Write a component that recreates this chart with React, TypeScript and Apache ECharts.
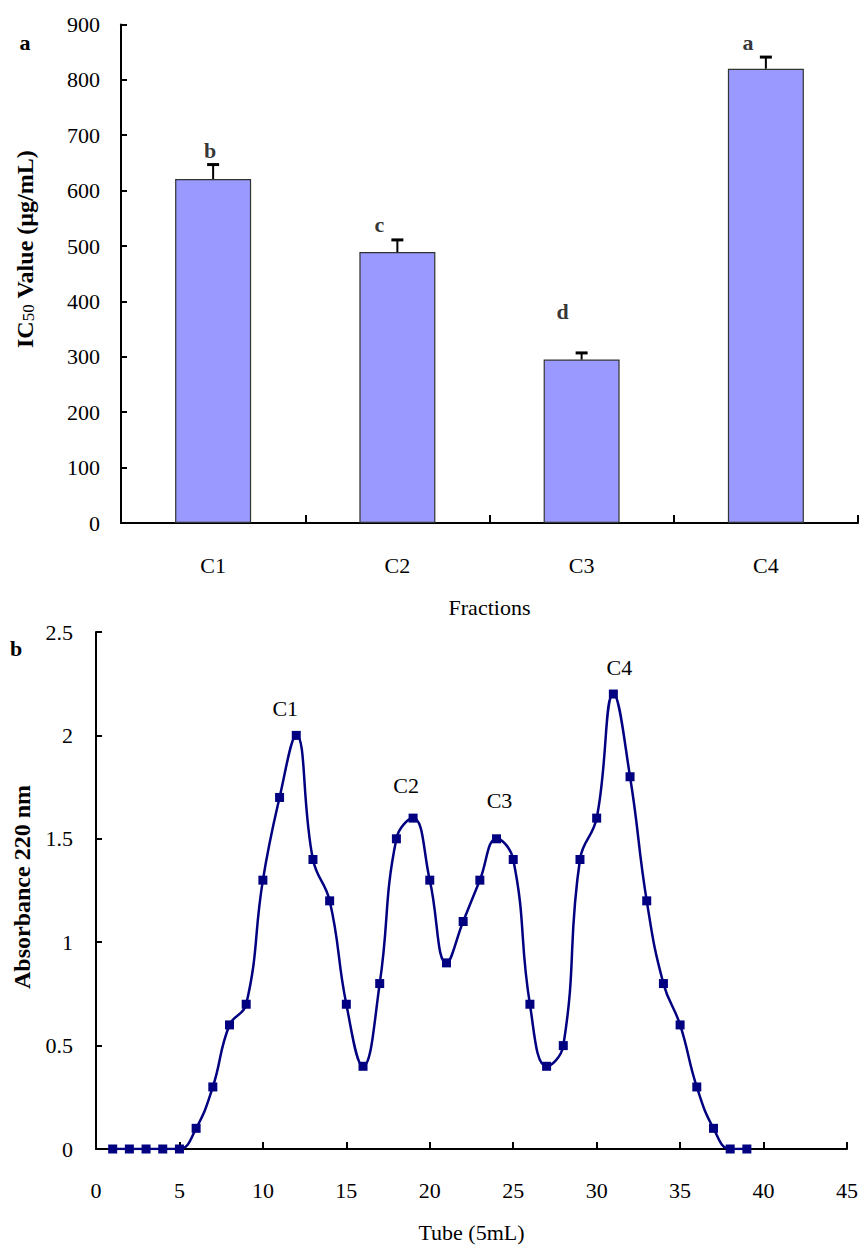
import React, { useEffect, useRef } from "react";
import * as echarts from "echarts";

// ---- Panel a: IC50 of fractions ----
const fractions = ["C1", "C2", "C3", "C4"];
const ic50 = [621, 489, 295, 820];
const ic50Err = [26, 22, 12, 21];
const sigLetters = ["b", "c", "d", "a"];
const sigLetterY = [673, 538, 381, 868];
const sigLetterDx = [-3, -18, -19, -18];

// ---- Panel b: elution profile ----
const tubes = [
  1, 2, 3, 4, 5, 6, 7, 8, 9, 10, 11, 12, 13, 14, 15, 16, 17, 18, 19, 20,
  21, 22, 23, 24, 25, 26, 27, 28, 29, 30, 31, 32, 33, 34, 35, 36, 37, 38, 39,
];
const absorbance = [
  0, 0, 0, 0, 0, 0.1, 0.3, 0.6, 0.7, 1.3, 1.7, 2.0, 1.4, 1.2, 0.7, 0.4, 0.8, 1.5, 1.6, 1.3,
  0.9, 1.1, 1.3, 1.5, 1.4, 0.7, 0.4, 0.5, 1.4, 1.6, 2.2, 1.8, 1.2, 0.8, 0.6, 0.3, 0.1, 0, 0,
];
const peakTubes = [12, 19, 24, 31];
const peakNames = ["C1", "C2", "C3", "C4"];
const peakLabelGap = [11, 17, 23, 11];
const peakLabelDx = [-11, -7, 3, 6];

const SERIF = "'Liberation Serif', 'Times New Roman', serif";
const NAVY = "#000080";

export default function App() {
  const ref = useRef<HTMLDivElement>(null);

  useEffect(() => {
    document.body.style.margin = "0";
    if (!ref.current) return;
    const chart = echarts.init(ref.current, null, { renderer: "svg" });

    const axisLine = { show: true, lineStyle: { color: "#000", width: 2 } };
    const tickStyle = { color: "#000", width: 2 };
    const labelStyle = { color: "#000", fontFamily: SERIF, fontSize: 22 };

    const lineData = tubes.map((t, i) => {
      const k = peakTubes.indexOf(t);
      if (k < 0) return [t, absorbance[i]];
      return {
        value: [t, absorbance[i]],
        label: {
          show: true,
          formatter: peakNames[k],
          position: "top",
          distance: peakLabelGap[k],
          offset: [peakLabelDx[k], 0],
          color: "#000",
          fontFamily: SERIF,
          fontSize: 22,
        },
      };
    });

    chart.setOption({
      animation: false,
      backgroundColor: "#fff",
      grid: [
        { left: 121, right: 3, top: 24.4, height: 498.6, containLabel: false },
        { left: 96, right: 11, top: 632, height: 517, containLabel: false },
      ],
      xAxis: [
        {
          gridIndex: 0,
          type: "category",
          data: fractions,
          boundaryGap: true,
          axisLine,
          axisTick: { show: true, inside: true, length: 8, interval: 0, lineStyle: tickStyle },
          axisLabel: { ...labelStyle, margin: 31, interval: 0 },
          name: "Fractions",
          nameLocation: "middle",
          nameGap: 73,
          nameTextStyle: { color: "#000", fontFamily: SERIF, fontSize: 22 },
          splitLine: { show: false },
        },
        {
          gridIndex: 1,
          type: "value",
          min: 0,
          max: 45,
          interval: 5,
          axisLine,
          axisTick: { show: true, inside: true, length: 7, lineStyle: tickStyle },
          axisLabel: { ...labelStyle, margin: 30 },
          name: "Tube (5mL)",
          nameLocation: "middle",
          nameGap: 72,
          nameTextStyle: { color: "#000", fontFamily: SERIF, fontSize: 22 },
          splitLine: { show: false },
        },
      ],
      yAxis: [
        {
          gridIndex: 0,
          type: "value",
          min: 0,
          max: 900,
          interval: 100,
          axisLine,
          axisTick: { show: true, inside: true, length: 6, lineStyle: tickStyle },
          axisLabel: { ...labelStyle, margin: 21 },
          splitLine: { show: false },
        },
        {
          gridIndex: 1,
          type: "value",
          min: 0,
          max: 2.5,
          interval: 0.5,
          axisLine,
          axisTick: { show: true, inside: true, length: 6, lineStyle: tickStyle },
          axisLabel: { ...labelStyle, margin: 23 },
          splitLine: { show: false },
        },
      ],
      graphic: [
        {
          type: "text",
          x: 25,
          y: 42,
          style: { text: "a", font: `bold 22px ${SERIF}`, fill: "#000", align: "center", verticalAlign: "middle" },
        },
        {
          type: "text",
          x: 16,
          y: 648,
          style: { text: "b", font: `bold 22px ${SERIF}`, fill: "#000", align: "center", verticalAlign: "middle" },
        },
        {
          type: "text",
          x: 25,
          y: 249,
          rotation: Math.PI / 2,
          style: {
            text: "{b|IC}{s|50}{b| Value (µg/mL)}",
            align: "center",
            verticalAlign: "middle",
            fill: "#000",
            rich: {
              b: { fontFamily: SERIF, fontWeight: "bold", fontSize: 24, fill: "#000", color: "#000", verticalAlign: "bottom" },
              s: { fontFamily: SERIF, fontWeight: "normal", fontSize: 17, fill: "#000", color: "#000", verticalAlign: "bottom" },
            },
          },
        },
        {
          type: "text",
          x: 22,
          y: 887,
          rotation: Math.PI / 2,
          style: {
            text: "Absorbance 220 nm",
            font: `bold 24px ${SERIF}`,
            fill: "#000",
            align: "center",
            verticalAlign: "middle",
          },
        },
      ],
      series: [
        {
          type: "bar",
          xAxisIndex: 0,
          yAxisIndex: 0,
          data: ic50,
          barWidth: 76,
          itemStyle: { color: "#9999ff", borderColor: "#333333", borderWidth: 1.2 },
          z: 2,
        },
        {
          type: "custom",
          xAxisIndex: 0,
          yAxisIndex: 0,
          z: 3,
          data: fractions.map((_, i) => [i, ic50[i], ic50Err[i]]),
          renderItem: (_params: any, api: any) => {
            const i = api.value(0);
            const v = api.value(1);
            const e = api.value(2);
            const base = api.coord([i, v]);
            const top = api.coord([i, v + e]);
            const hw = 6;
            return {
              type: "group",
              children: [
                {
                  type: "line",
                  shape: { x1: top[0], y1: base[1], x2: top[0], y2: top[1] },
                  style: { stroke: "#000", lineWidth: 2 },
                },
                {
                  type: "line",
                  shape: { x1: top[0] - hw, y1: top[1], x2: top[0] + hw, y2: top[1] },
                  style: { stroke: "#000", lineWidth: 3 },
                },
              ],
            };
          },
        },
        {
          type: "scatter",
          xAxisIndex: 0,
          yAxisIndex: 0,
          symbolSize: 0,
          z: 4,
          data: fractions.map((_, i) => ({
            value: [i, sigLetterY[i]],
            label: {
              show: true,
              formatter: sigLetters[i],
              position: "inside",
              offset: [sigLetterDx[i], 0],
              color: "#000",
              fontFamily: SERIF,
              fontWeight: "bold",
              fontSize: 22,
            },
          })),
        },
        {
          type: "line",
          xAxisIndex: 1,
          yAxisIndex: 1,
          data: lineData,
          smooth: 0.45,
          symbol: "rect",
          symbolSize: 9,
          showAllSymbol: true,
          lineStyle: { color: NAVY, width: 2.5 },
          itemStyle: { color: NAVY },
          z: 3,
        },
      ],
    });

    return () => chart.dispose();
  }, []);

  return <div ref={ref} style={{ width: 861, height: 1249 }} />;
}
